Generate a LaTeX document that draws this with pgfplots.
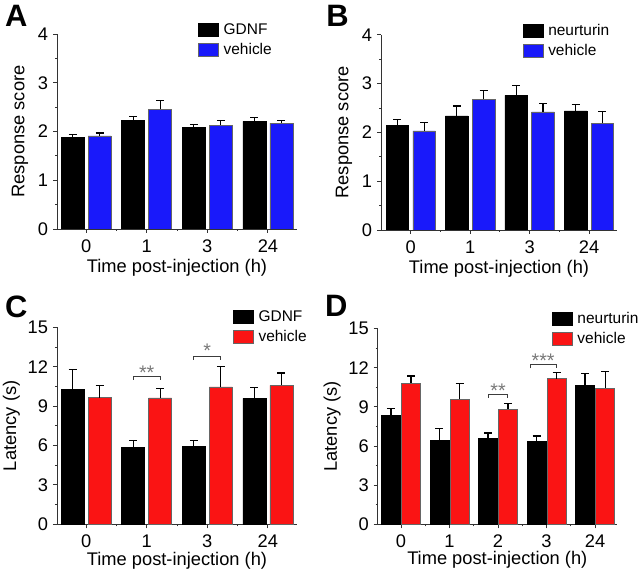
\documentclass[border=0pt]{standalone}
\usepackage{fontspec}
\setmainfont{Liberation Sans}
\usepackage{pgfplots}
\pgfplotsset{compat=1.18}

\definecolor{vblue}{RGB}{25,25,250}
\definecolor{vred}{RGB}{250,20,20}
\definecolor{brk}{RGB}{60,60,60}
\definecolor{star}{RGB}{120,120,120}

\pgfplotsset{
  panel/.style={
    scale only axis,
    axis lines=left,
    axis line style={-, line width=0.7pt, black!80},
    tick align=outside,
    major tick length=0.1cm,
    minor tick length=0.05cm,
    every tick/.style={line width=0.7pt, black!80},
    ymin=0,
    minor y tick num=1,
    /pgf/number format/assume math mode=true,
    tick label style={font=\fontsize{13}{15}\selectfont},
    xticklabel style={yshift=-0.04cm},
    label style={font=\fontsize{13}{15}\selectfont},
    xlabel={Time post-injection (h)},
    legend style={draw=none, fill=none, inner sep=0pt, row sep=2.5pt,
      nodes={inner xsep=0.12cm, inner ysep=0.04cm},
      font=\fontsize{11}{13}\selectfont, anchor=north west},
    legend cell align=left,
    error bars/y dir=plus, error bars/y explicit,
    error bars/error bar style={line width=0.8pt, black},
    error bars/error mark options={rotate=90, mark size=0.1cm, line width=0.8pt, black},
  },
  lg/.style={legend image code/.code={\draw[#1] (0cm,-0.16cm) rectangle (0.5cm,0.16cm);}},
}

\begin{document}
\begin{tikzpicture}
\useasboundingbox (0,0) rectangle (16,14.4);

% A
\begin{axis}[panel, at={(1.425cm,8.675cm)}, anchor=south west,
    width=6.0cm, height=4.875cm, ybar=2.8pt, bar width=0.38,
    xmin=-0.48, xmax=3.48, ymax=4, ytick={0,1,2,3,4},
    xtick={0,1,2,3}, xticklabels={0,1,3,24}, minor xtick={0.5,1.5,2.5},
    ylabel={Response score},
    ylabel style={at={(axis description cs:-0.154,0.5)}, anchor=center},
    xlabel style={at={(axis description cs:0.5,-0.2)}, anchor=center},
    legend style={at={(axis description cs:0.5875,1.065)}}]
\addplot[lg, fill=black, draw=black] coordinates {
  (0,1.88) +- (0,0.06) (1,2.23) +- (0,0.07) (2,2.09) +- (0,0.05) (3,2.21) +- (0,0.07)};
\addlegendentry{GDNF}
\addplot[lg, fill=vblue, draw=black!60] coordinates {
  (0,1.91) +- (0,0.06) (1,2.46) +- (0,0.18) (2,2.13) +- (0,0.09) (3,2.17) +- (0,0.05)};
\addlegendentry{vehicle}
\end{axis}

% B
\begin{axis}[panel, at={(9.525cm,8.65cm)}, anchor=south west,
    width=5.9cm, height=4.88cm, ybar=3pt, bar width=0.38,
    xmin=-0.5, xmax=3.47, ymax=4, ytick={0,1,2,3,4},
    xtick={0,1,2,3}, xticklabels={0,1,3,24}, minor xtick={0.5,1.5,2.5},
    ylabel={Response score},
    ylabel style={at={(axis description cs:-0.157,0.5)}, anchor=center},
    xlabel style={at={(axis description cs:0.5,-0.2)}, anchor=center},
    legend style={at={(axis description cs:0.6,1.065)}}]
\addplot[lg, fill=black, draw=black] coordinates {
  (0,2.15) +- (0,0.12) (1,2.34) +- (0,0.20) (2,2.76) +- (0,0.20) (3,2.44) +- (0,0.13)};
\addlegendentry{neurturin}
\addplot[lg, fill=vblue, draw=black!60] coordinates {
  (0,2.03) +- (0,0.17) (1,2.68) +- (0,0.18) (2,2.42) +- (0,0.18) (3,2.19) +- (0,0.24)};
\addlegendentry{vehicle}
\end{axis}

% C
\begin{axis}[panel, at={(1.425cm,1.292cm)}, anchor=south west,
    width=6.0cm, height=4.925cm, ybar=2.8pt, bar width=0.38,
    xmin=-0.48, xmax=3.48, ymax=15, ytick={0,3,6,9,12,15},
    xtick={0,1,2,3}, xticklabels={0,1,3,24}, minor xtick={0.5,1.5,2.5},
    ylabel={Latency (s)},
    ylabel style={at={(axis description cs:-0.19,0.5)}, anchor=center},
    xlabel style={at={(axis description cs:0.5,-0.183)}, anchor=center},
    legend style={at={(axis description cs:0.733,1.095)}}]
\addplot[lg, fill=black, draw=black] coordinates {
  (0,10.30) +- (0,1.50) (1,5.86) +- (0,0.49) (2,5.91) +- (0,0.44) (3,9.59) +- (0,0.82)};
\addlegendentry{GDNF}
\addplot[lg, fill=vred, draw=black!60] coordinates {
  (0,9.64) +- (0,0.94) (1,9.62) +- (0,0.71) (2,10.46) +- (0,1.54) (3,10.58) +- (0,0.94)};
\addlegendentry{vehicle}
\draw[brk, line width=0.7pt] (axis cs:0.778,10.99) |- (axis cs:1.222,11.24) -- (axis cs:1.222,10.99);
\node[star, font=\fontsize{14}{14}\selectfont, anchor=base] at (axis cs:1,11.05) {**};
\draw[brk, line width=0.7pt] (axis cs:1.778,12.52) |- (axis cs:2.222,12.77) -- (axis cs:2.222,12.52);
\node[star, font=\fontsize{14}{14}\selectfont, anchor=base] at (axis cs:2,12.67) {*};
\end{axis}

% D
\begin{axis}[panel, at={(9.4425cm,1.292cm)}, anchor=south west,
    width=5.98cm, height=4.89cm, ybar=0.8pt, bar width=0.39,
    xmin=-0.48, xmax=4.45, ymax=15, ytick={0,3,6,9,12,15},
    xtick={0,1,2,3,4}, xticklabels={0,1,2,3,24}, minor xtick={0.5,1.5,2.5,3.5},
    ylabel={Latency (s)},
    ylabel style={at={(axis description cs:-0.19,0.5)}, anchor=center},
    xlabel style={at={(axis description cs:0.5,-0.183)}, anchor=center},
    legend style={at={(axis description cs:0.728,1.095)}}]
\addplot[lg, fill=black, draw=black] coordinates {
  (0,8.38) +- (0,0.51) (1,6.44) +- (0,0.89) (2,6.59) +- (0,0.41) (3,6.34) +- (0,0.43) (4,10.63) +- (0,0.92)};
\addlegendentry{neurturin}
\addplot[lg, fill=vred, draw=black!60] coordinates {
  (0,10.81) +- (0,0.56) (1,9.61) +- (0,1.20) (2,8.82) +- (0,0.46) (3,11.17) +- (0,0.46) (4,10.45) +- (0,1.25)};
\addlegendentry{vehicle}
\draw[brk, line width=0.7pt] (axis cs:1.8,9.71) |- (axis cs:2.2,9.97) -- (axis cs:2.2,9.71);
\node[star, font=\fontsize{14}{14}\selectfont, anchor=base] at (axis cs:2,9.76) {**};
\draw[brk, line width=0.7pt] (axis cs:2.66,11.96) |- (axis cs:3.21,12.22) -- (axis cs:3.21,11.96);
\node[star, font=\fontsize{14}{14}\selectfont, anchor=base] at (axis cs:2.93,11.99) {***};
\end{axis}

% panel letters
\node[anchor=north west, inner sep=0pt, font=\fontsize{22}{22}\selectfont\bfseries] at (0.12cm,14.27cm) {A};
\node[anchor=north west, inner sep=0pt, font=\fontsize{22}{22}\selectfont\bfseries] at (8.15cm,14.27cm) {B};
\node[anchor=north west, inner sep=0pt, font=\fontsize{22}{22}\selectfont\bfseries] at (0.12cm,7.02cm) {C};
\node[anchor=north west, inner sep=0pt, font=\fontsize{22}{22}\selectfont\bfseries] at (8.12cm,7.02cm) {D};
\end{tikzpicture}
\end{document}
